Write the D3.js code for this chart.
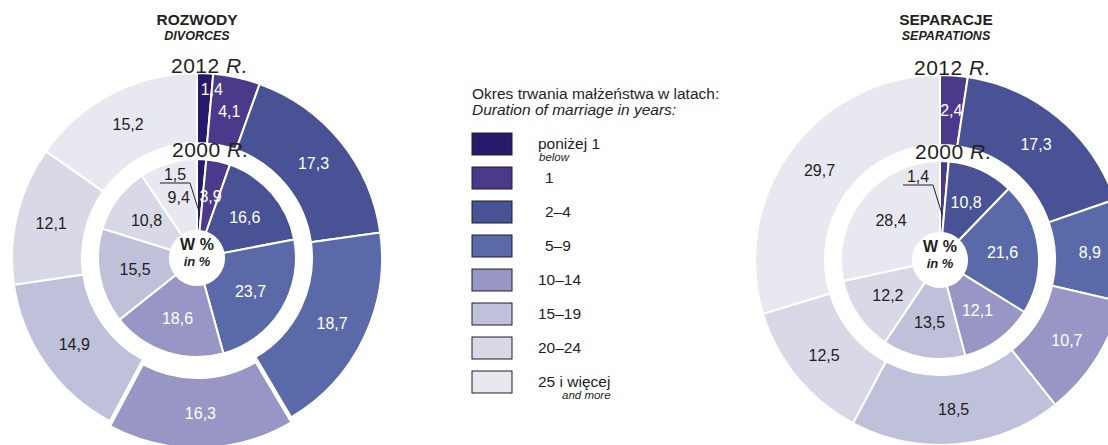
<!DOCTYPE html>
<html>
<head>
<meta charset="utf-8">
<script src="https://cdn.jsdelivr.net/npm/d3@7"></script>
<style>
  body { margin: 0; background: #fff; }
  text { font-family: Arial, "Liberation Sans", sans-serif; fill: #231f20; }
</style>
</head>
<body>
<script>
// categories (duration of marriage)
const categories = ["poniżej 1", "1", "2–4", "5–9", "10–14", "15–19", "20–24", "25 i więcej"];
const categoriesEn = ["below", "", "", "", "", "", "", "and more"];
const colors = ["#29196b", "#4b3a8a", "#4a5296", "#5a6aa9", "#9796c4", "#bfc0da", "#d8d8e7", "#e8e8f0"];

// shares in %
const divorces2012 = [1.4, 4.1, 17.3, 18.7, 16.3, 14.9, 12.1, 15.2];
const divorces2000 = [1.5, 3.9, 16.6, 23.7, 18.6, 15.5, 10.8, 9.4];
const separations2012 = [0, 2.4, 17.3, 8.9, 10.7, 18.5, 12.5, 29.7];
const separations2000 = [0, 1.4, 10.8, 21.6, 12.1, 13.5, 12.2, 28.4];

const width = 1108, height = 445;

var svg = d3.select("body")
    .append("svg")
    .attr("width", width)
    .attr("height", height);

const fmt = v => d3.format(".1f")(v).replace(".", ",");

var pie = d3.pie().sort(null).value(d => d.v);
var outerArc = d3.arc().innerRadius(115).outerRadius(185);
var innerArc = d3.arc().innerRadius(27).outerRadius(99);

function drawDonut(cx, cy, outer, inner, title, titleEn, titleDx, explodeIdx) {
    let g = svg.append("g").attr("transform", `translate(${cx},${cy})`);

    // titles
    svg.append("text").attr("x", cx + titleDx).attr("y", 25)
        .attr("text-anchor", "middle").style("font-weight", "bold").style("font-size", "15.5px")
        .text(title);
    svg.append("text").attr("x", cx + titleDx).attr("y", 40)
        .attr("text-anchor", "middle").style("font-weight", "bold").style("font-style", "italic")
        .style("font-size", "12.5px").text(titleEn);

    // outer ring (2012)
    let outerData = pie(outer.map((v, i) => ({v: v, i: i})));
    g.append("g").selectAll("path")
        .data(outerData.filter(d => d.data.v > 0))
        .enter()
        .append("path")
        .attr("d", outerArc)
        .attr("transform", d => {
            if (d.data.i !== explodeIdx) return null;
            let a = (d.startAngle + d.endAngle) / 2;
            return `translate(${5 * Math.sin(a)},${-5 * Math.cos(a)})`;
        })
        .style("fill", d => colors[d.data.i])
        .style("stroke", "white")
        .style("stroke-width", 2);

    g.append("g").selectAll("text")
        .data(outerData.filter(d => d.data.v > 0))
        .enter()
        .append("text")
        .attr("transform", d => {
            let a, r;
            if (d.data.v < 2) { a = d.endAngle; r = 169; }
            else { a = (d.startAngle + d.endAngle) / 2; r = 150; }
            if (d.data.i === explodeIdx) r += 5;
            return `translate(${r * Math.sin(a)},${-r * Math.cos(a)})`;
        })
        .attr("dy", "0.35em")
        .attr("text-anchor", "middle")
        .style("font-size", "16px")
        .style("fill", d => d.data.i <= 4 ? "#fff" : "#231f20")
        .text(d => fmt(d.data.v));

    // inner ring (2000)
    let innerData = pie(inner.map((v, i) => ({v: v, i: i})));
    g.append("g").selectAll("path")
        .data(innerData.filter(d => d.data.v > 0))
        .enter()
        .append("path")
        .attr("d", innerArc)
        .style("fill", d => colors[d.data.i])
        .style("stroke", "white")
        .style("stroke-width", 2);

    g.append("g").selectAll("text")
        .data(innerData.filter(d => d.data.v >= 2))
        .enter()
        .append("text")
        .attr("transform", d => `translate(${innerArc.centroid(d)})`)
        .attr("dy", "0.35em")
        .attr("text-anchor", "middle")
        .style("font-size", "16px")
        .style("fill", d => d.data.i <= 4 ? "#fff" : "#231f20")
        .text(d => fmt(d.data.v));

    // leader lines for thin slices
    innerData.filter(d => d.data.v > 0 && d.data.v < 2).forEach(d => {
        let a = (d.startAngle + d.endAngle) / 2;
        let px = 46 * Math.sin(a), py = -46 * Math.cos(a);
        g.append("path")
            .attr("d", `M${px},${py}L-7,-75L-37,-75`)
            .style("fill", "none")
            .style("stroke", "#231f20")
            .style("stroke-width", 1);
        g.append("text")
            .attr("x", -22).attr("y", -78)
            .attr("text-anchor", "middle")
            .style("font-size", "16px")
            .text(fmt(d.data.v));
    });

    // centre
    g.append("text").attr("y", -8).attr("text-anchor", "middle")
        .style("font-weight", "bold").style("font-size", "16px").text("W %");
    g.append("text").attr("y", 8).attr("text-anchor", "middle")
        .style("font-weight", "bold").style("font-style", "italic").style("font-size", "13px").text("in %");

    // year labels
    let y1 = g.append("text").attr("x", -26).attr("y", -185).style("font-size", "21px").style("letter-spacing", "0.5px");
    y1.append("tspan").text("2012 ");
    y1.append("tspan").style("font-style", "italic").text("R.");
    let y2 = g.append("text").attr("x", -25).attr("y", -101).style("font-size", "21px").style("letter-spacing", "0.5px");
    y2.append("tspan").text("2000 ");
    y2.append("tspan").style("font-style", "italic").text("R.");
}

drawDonut(197, 258, divorces2012, divorces2000, "ROZWODY", "DIVORCES", 0, 4);
drawDonut(940, 260, separations2012, separations2000, "SEPARACJE", "SEPARATIONS", 6, -1);

// legend
let legend = svg.append("g");
legend.append("text").attr("x", 472).attr("y", 99).style("font-size", "15.5px")
    .text("Okres trwania małżeństwa w latach:");
legend.append("text").attr("x", 472).attr("y", 115).style("font-size", "15.5px").style("font-style", "italic")
    .text("Duration of marriage in years:");

let items = legend.selectAll("g.item")
    .data(categories)
    .enter()
    .append("g")
    .attr("class", "item")
    .attr("transform", (d, i) => `translate(472,${133 + 34 * i})`);

items.append("rect")
    .attr("width", 40)
    .attr("height", 22)
    .style("fill", (d, i) => colors[i])
    .style("stroke", "#231f20")
    .style("stroke-width", 1);

items.append("text")
    .attr("x", d => /^\d(–|$)/.test(d) ? 73 : 66)
    .attr("y", 16)
    .style("font-size", "15.5px")
    .text(d => d);

items.append("text")
    .attr("x", (d, i) => i === 0 ? 67 : 90)
    .attr("y", 28)
    .style("font-size", "11.5px")
    .style("font-style", "italic")
    .text((d, i) => categoriesEn[i]);
</script>
</body>
</html>
